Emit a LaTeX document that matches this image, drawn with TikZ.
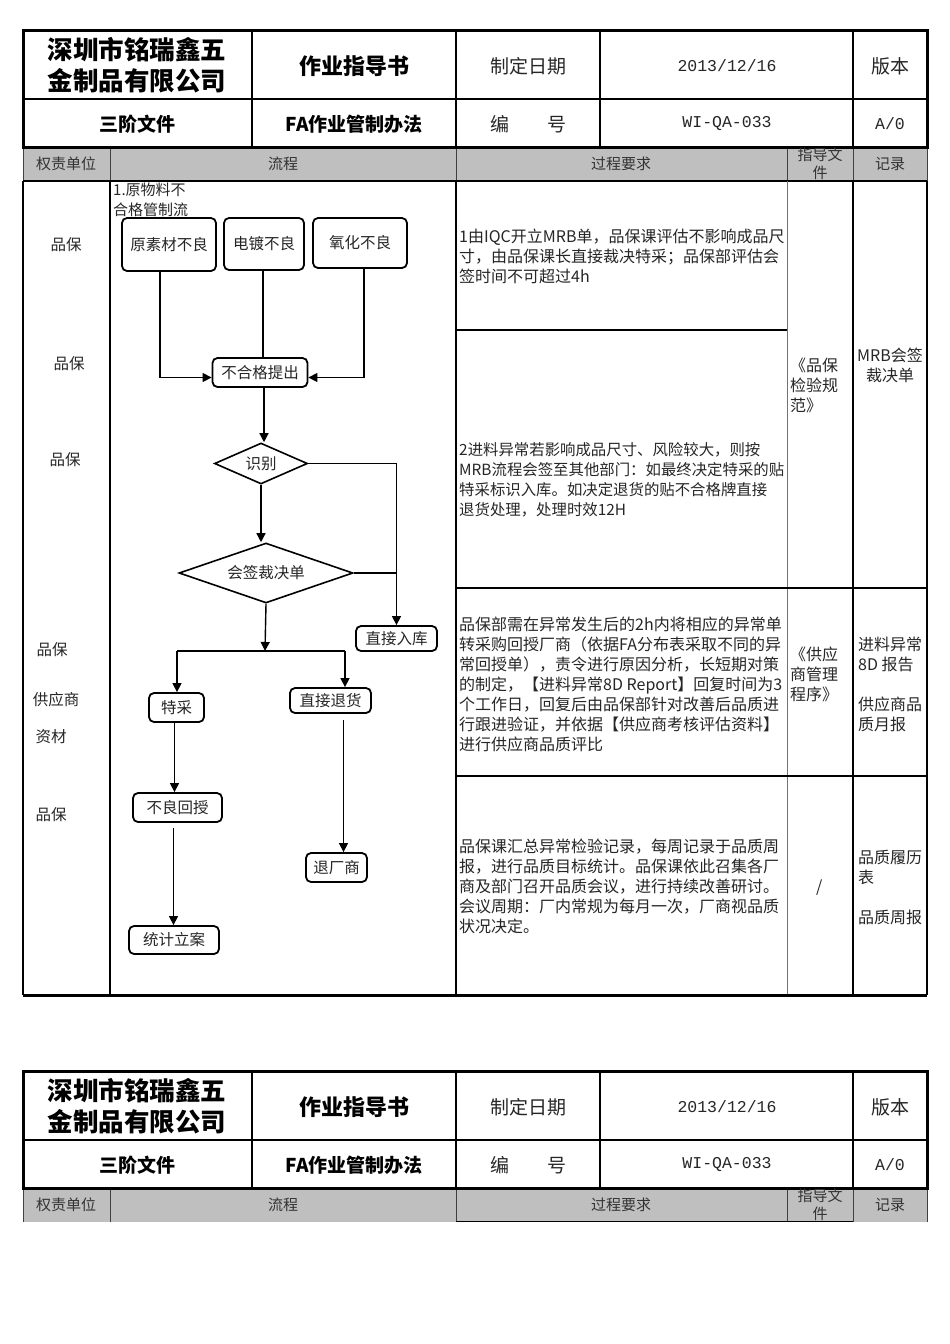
\documentclass[tikz,border=0pt]{standalone}
\usepackage{fontspec}
\setmainfont{Noto Sans CJK SC}
\newfontfamily\codefont{Liberation Mono}
\usetikzlibrary{arrows.meta,positioning,shapes.geometric,calc}

\begin{document}
\begin{tikzpicture}[
  x=1pt, y=-1pt,
  cell/.style={inner sep=0pt, text=black!85, align=left, anchor=north west,
               font=\fontsize{16}{20}\selectfont},
  hdbig/.style={inner sep=0pt, align=center, font=\bfseries\fontsize{25.5}{31}\selectfont},
  hdtitle/.style={inner sep=0pt, font=\bfseries\fontsize{22}{26}\selectfont},
  hdbold/.style={inner sep=0pt, font=\bfseries\fontsize{19}{22}\selectfont},
  hdtxt/.style={inner sep=0pt, text=black!85, font=\fontsize{19}{22}\selectfont},
  hdcode/.style={inner sep=0pt, text=black!85, font=\codefont\fontsize{16.5}{20}\selectfont},
  colhead/.style={inner sep=0pt, text=black!80, align=center, font=\fontsize{15}{18}\selectfont},
  unit/.style={inner sep=0pt, text=black!85, font=\fontsize{15.5}{18}\selectfont},
  flowbox/.style={draw, line width=1.8pt, rounded corners=5pt, inner sep=0pt,
                  text=black!85, font=\fontsize{15.5}{18}\selectfont},
  decide/.style={diamond, draw, line width=1.6pt, aspect=3, inner sep=0pt,
                 text=black!85, font=\fontsize{15.5}{18}\selectfont},
  link/.style={line width=1.4pt},
  arr/.style={link, -{Triangle[length=9pt, width=9pt]}},
]
\fill[white] (0,0) rectangle (950,1344);
\useasboundingbox (0,0) rectangle (950,1344);

% Page headers (same block twice)
\foreach \dy/\tb in {0/a, 1041/b}{
\begin{scope}[shift={(0,\dy)}]
  \fill[gray!50] (23,147) rectangle (927,181);
  \foreach \cx in {23,110,456,787,853,927}
    \draw[line width=1pt, black!75] (\cx,147) -- (\cx,181);
  \draw[line width=1.8pt] (23,99) -- (927,99);
  \foreach \cx in {252,456,600,853}
    \draw[line width=1.8pt] (\cx,30) -- (\cx,147);
  \draw[line width=3pt] (23,30) rectangle (927,147);

  \node[hdbig] (\tb-co) at (137,65) {深圳市铭瑞鑫五\\金制品有限公司};
  \node[hdtitle] (\tb-wi) at (354,66) {作业指导书};
  \node[hdtxt] (\tb-dt) at (528,66) {制定日期};
  \node[hdcode] (\tb-date) at (727,66) {2013/12/16};
  \node[hdtxt] (\tb-ver) at (890,66) {版本};
  \node[hdbold] (\tb-lv) at (137,124) {三阶文件};
  \node[hdbold] (\tb-nm) at (354,124) {FA作业管制办法};
  \node[hdtxt] (\tb-no) at (528,124) {编　　号};
  \node[hdcode] (\tb-code) at (727,124) {WI-QA-033};
  \node[hdcode] (\tb-rev) at (890,124) {A/0};

  \node[colhead] (\tb-h1) at (66,164) {权责单位};
  \node[colhead] (\tb-h2) at (283,164) {流程};
  \node[colhead] (\tb-h3) at (621,164) {过程要求};
  \begin{scope}
    \clip (787,147) rectangle (853,181);
    \node[colhead] (\tb-h4) at (820,164) {指导文\\件};
  \end{scope}
  \node[colhead] (\tb-h5) at (890,164) {记录};
\end{scope}
}
\draw[line width=1pt] (456,1221) -- (853,1221);

% Body grid
\draw[line width=1.5pt] (23,181) -- (927,181);
\draw[line width=1.2pt] (23,181) -- (23,995);
\draw[line width=1.5pt] (110,181) -- (110,995);
\draw[line width=2pt] (456,181) -- (456,995);
\draw[line width=1pt, black!55] (787,181) -- (787,995);
\draw[line width=2.2pt] (853,181) -- (853,995);
\draw[line width=2.2pt] (927,181) -- (927,995);
\draw[line width=1.5pt] (456,330) -- (787,330);
\draw[line width=2pt] (456,588) -- (927,588);
\draw[line width=2pt] (456,776) -- (927,776);
\draw[line width=3pt] (23,995) -- (927,995);

% Responsible units
\node[unit] (u1) at (66,245) {品保};
\node[unit] (u2) at (69,364) {品保};
\node[unit] (u3) at (65,460) {品保};
\node[unit] (u4) at (52,650) {品保};
\node[unit] (u5) at (56,700) {供应商};
\node[unit] (u6) at (51,737) {资材};
\node[unit] (u7) at (51,815) {品保};

% Process requirements
\node[cell] (p1) at (459,229) {1由IQC开立MRB单，品保课评估不影响成品尺\\寸，由品保课长直接裁决特采；品保部评估会\\签时间不可超过4h};
\node[cell, font=\fontsize{15.4}{20}\selectfont] (p2) at (459,442) {2进料异常若影响成品尺寸、风险较大，则按\\MRB流程会签至其他部门：如最终决定特采的贴\\特采标识入库。如决定退货的贴不合格牌直接\\退货处理，处理时效12H};
\node[cell] (p3) at (459,617) {品保部需在异常发生后的2h内将相应的异常单\\转采购回授厂商（依据FA分布表采取不同的异\\常回授单），责令进行原因分析，长短期对策\\的制定，【进料异常8D Report】回复时间为3\\个工作日，回复后由品保部针对改善后品质进\\行跟进验证，并依据【供应商考核评估资料】\\进行供应商品质评比};
\node[cell] (p4) at (459,839) {品保课汇总异常检验记录，每周记录于品质周\\报，进行品质目标统计。品保课依此召集各厂\\商及部门召开品质会议，进行持续改善研讨。\\会议周期：厂内常规为每月一次，厂商视品质\\状况决定。};

% Guide documents and records
\node[cell] (g1) at (790,358) {《品保\\检验规\\范》};
\node[cell] (g2) at (790,647) {《供应\\商管理\\程序》};
\node[cell] (g3) at (816,880) {/};
\node[cell, align=center, anchor=north] (r1) at (890,348) {MRB会签\\裁决单};
\node[cell] (r2) at (858,637) {进料异常\\8D 报告\\[20pt]供应商品\\质月报};
\node[cell] (r3) at (858,850) {品质履历\\表\\[20pt]品质周报};

% Flow chart
\node[cell, font=\fontsize{15}{20}\selectfont] (ttl) at (113,183) {1.原物料不\\合格管制流};
\node[flowbox, minimum width=94pt, minimum height=53pt] (b1) at (169,244.5) {原素材不良};
\node[flowbox, minimum width=80pt, minimum height=52pt] (b2) at (264,244) {电镀不良};
\node[flowbox, minimum width=94pt, minimum height=50pt] (b3) at (360,243) {氧化不良};
\node[flowbox, minimum width=95pt, minimum height=29pt] (tc) at (260,372.5) {不合格提出};
\node[decide, minimum width=93pt, minimum height=41pt] (jb) at (261,463.5) {识别};
\node[decide, minimum width=174pt, minimum height=60pt] (hq) at (266,573) {会签裁决单};
\node[flowbox, minimum width=81pt, minimum height=25pt] (rk) at (396.5,638.5) {直接入库};
\node[flowbox, minimum width=55pt, minimum height=29pt] (tp) at (176.5,707.5) {特采};
\node[flowbox, minimum width=81pt, minimum height=25pt] (zt) at (330.5,700.5) {直接退货};
\node[flowbox, minimum width=89pt, minimum height=29pt] (bh) at (177.5,807.5) {不良回授};
\node[flowbox, minimum width=61pt, minimum height=29pt] (rf) at (336.5,867.5) {退厂商};
\node[flowbox, minimum width=90pt, minimum height=28pt] (tj) at (174,940) {统计立案};

\coordinate (bar) at (265,651);
\coordinate (barL) at (177,651);
\coordinate (barR) at (345,651);

\draw[arr] ([xshift=-9pt]b1.south) |- ([yshift=-5pt]tc.west);
\draw[link] ([xshift=-1pt]b2.south) -- ([xshift=-1pt]b2.south |- tc.north);
\draw[arr] ([xshift=4pt]b3.south) |- ([yshift=-5pt]tc.east);
\draw[arr] ([xshift=4pt]tc.south) -- ([xshift=4pt]tc.south |- jb.north);
\draw[arr] (jb.south) -- (jb.south |- hq.north);
\draw[arr] (jb.east) -| (rk.north);
\draw[line width=2.2pt] (hq.east) -- (hq.east -| rk.north);
\draw[arr] (hq.south) -- (bar);
\draw[link] (barL) -- (barR);
\draw[arr] (barL) -- (barL |- tp.north);
\draw[arr] (barR) -- (barR |- zt.north);
\draw[arr] ([xshift=-2pt]tp.south) -- ([xshift=-2pt]tp.south |- bh.north);
\draw[arr, shorten <=6pt] ([xshift=13pt]zt.south) -- ([xshift=13pt]zt.south |- rf.north);
\draw[arr, shorten <=5pt] ([xshift=-4pt]bh.south) -- ([xshift=-4pt]bh.south |- tj.north);

\end{tikzpicture}
\end{document}
